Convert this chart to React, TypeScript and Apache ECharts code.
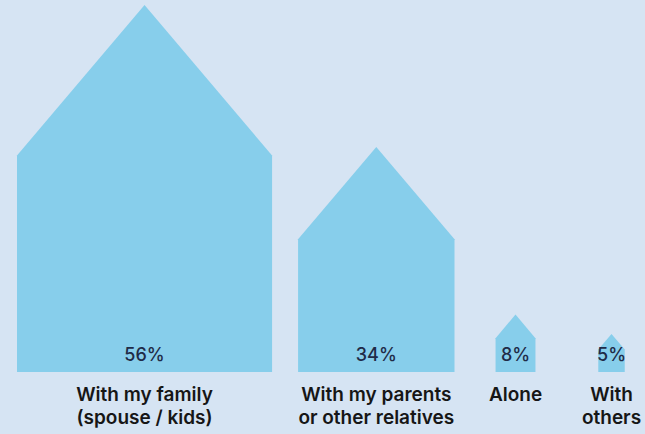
import React, { useEffect, useRef } from 'react';
import * as echarts from 'echarts';

const categories = ['With my family\n(spouse / kids)', 'With my parents\nor other relatives', 'Alone', 'With\nothers'];
const values = [56, 34, 8, 5];
const valueLabels = ['56%', '34%', '8%', '5%'];

const Y_MIN = -0.9;
const Y_MAX = 56;
const GRID_TOP = 5;
const GRID_BOTTOM = 62;
const W = 645;
const H = 434;
const LEFT = 17;
const GAP = 26;
const MIN_ITEM = 70;
const ASPECT = 0.695; // house width / house height
const WALL = 0.59; // wall height / house height
const FONT_FAMILY = 'Inter, "Noto Sans", sans-serif';
const LABEL_SIZE = 19;
const LABEL_WEIGHT = 600;

export default function App() {
  const ref = useRef<HTMLDivElement>(null);
  useEffect(() => {
    const chart = echarts.init(ref.current!, null, { renderer: 'svg' });
    const ctx = document.createElement('canvas').getContext('2d')!;
    ctx.font = `${LABEL_WEIGHT} ${LABEL_SIZE}px Inter`;
    const labelW = categories.map((c) => Math.max(...c.split('\n').map((l) => ctx.measureText(l).width)));
    const unit = (H - GRID_TOP - GRID_BOTTOM) / (Y_MAX - Y_MIN);
    const houseW = values.map((v) => (v - Y_MIN) * unit * ASPECT);
    const itemW = houseW.map((w, i) => Math.max(w, labelW[i], MIN_ITEM));
    const centers: number[] = [];
    let x = LEFT;
    for (let i = 0; i < values.length; i++) {
      centers.push(x + itemW[i] / 2);
      x += itemW[i] + GAP;
    }

    chart.setOption({
      animation: false,
      backgroundColor: '#d6e4f3',
      grid: { left: 0, right: 0, top: GRID_TOP, bottom: GRID_BOTTOM },
      xAxis: { type: 'category', data: categories, show: false },
      yAxis: { type: 'value', min: Y_MIN, max: Y_MAX, show: false },
      series: [
        {
          type: 'custom',
          clip: false,
          data: values.map((v, i) => [i, v]),
          renderItem: (params: any, api: any) => {
            const i = params.dataIndex;
            const v = api.value(1);
            const top = api.coord([i, v])[1];
            const base = api.coord([i, Y_MIN])[1];
            const h = base - top;
            const w = h * ASPECT;
            const wallTop = base - h * WALL;
            const cx = centers[i];
            return {
              type: 'group',
              children: [
                {
                  type: 'polygon',
                  shape: {
                    points: [
                      [cx - w / 2, base],
                      [cx - w / 2, wallTop],
                      [cx, top],
                      [cx + w / 2, wallTop],
                      [cx + w / 2, base],
                    ],
                  },
                  style: { fill: '#87ceeb' },
                },
                {
                  type: 'text',
                  x: cx,
                  y: base - 18,
                  style: {
                    text: valueLabels[i],
                    fill: '#1f2b47',
                    font: `500 18px ${FONT_FAMILY}`,
                    align: 'center',
                    verticalAlign: 'middle',
                  },
                },
                {
                  type: 'text',
                  x: cx,
                  y: base + 11,
                  style: {
                    text: categories[i],
                    fill: '#161616',
                    font: `${LABEL_WEIGHT} ${LABEL_SIZE}px ${FONT_FAMILY}`,
                    lineHeight: 23,
                    align: 'center',
                    verticalAlign: 'top',
                  },
                },
              ],
            };
          },
        },
      ],
    });
    return () => chart.dispose();
  }, []);
  return <div ref={ref} style={{ position: 'fixed', left: 0, top: 0, width: W, height: H }} />;
}
